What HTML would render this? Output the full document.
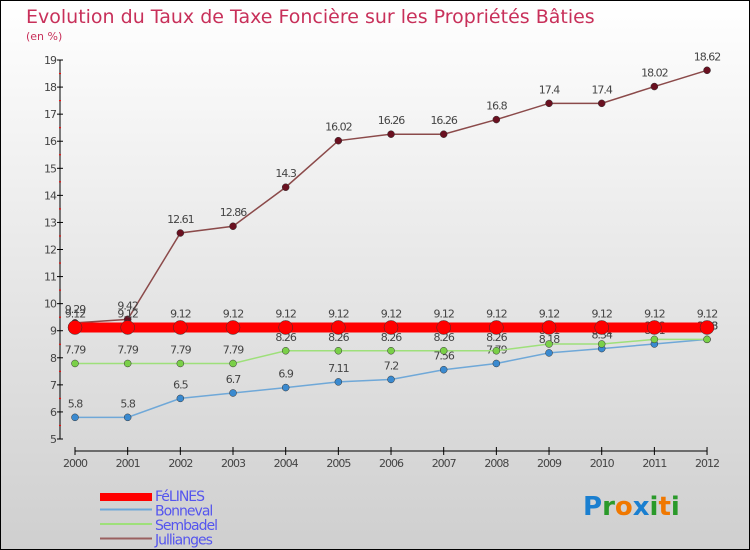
<!DOCTYPE html>
<html><head><meta charset="utf-8"><style>
body{margin:0}
#c{width:750px;height:550px;position:relative;background:linear-gradient(#ffffff,#cfcfcf);box-sizing:border-box;border:1px solid #000;overflow:hidden;font-family:"DejaVu Sans","Liberation Sans",sans-serif}
</style></head><body>
<div id="c">
<svg id="s" width="748" height="548" viewBox="1 1 748 548" style="position:absolute;left:0;top:0">
<text x="26" y="23" font-size="19" fill="#c8305a">Evolution du Taux de Taxe Foncière sur les Propriétés Bâties</text>
<text x="26" y="40" font-size="11" fill="#c8305a">(en %)</text>
</svg>
</div>
<script>
const years=['2000','2001','2002','2003','2004','2005','2006','2007','2008','2009','2010','2011','2012'];
const felines=[9.12,9.12,9.12,9.12,9.12,9.12,9.12,9.12,9.12,9.12,9.12,9.12,9.12];
const bonneval=[5.8,5.8,6.5,6.7,6.9,7.11,7.2,7.56,7.79,8.18,8.34,8.51,8.68];
const sembadel=[7.79,7.79,7.79,7.79,8.26,8.26,8.26,8.26,8.26,8.51,8.51,8.68,8.68];
const jullianges=[9.29,9.42,12.61,12.86,14.3,16.02,16.26,16.26,16.8,17.4,17.4,18.02,18.62];
const yTicks=[5,6,7,8,9,10,11,12,13,14,15,16,17,18,19];
const svg=document.getElementById('s');const NS='http://www.w3.org/2000/svg';
const X=i=>75+i*52.67, Y=v=>439-(v-5)*27.07;
function mk(t,a,p){const e=document.createElementNS(NS,t);for(const k in a)e.setAttribute(k,a[k]);(p||svg).appendChild(e);return e;}
const ax=mk('g',{});


mk('line',{x1:60,y1:Y(19),x2:60,y2:Y(5),stroke:'#000'},ax);
mk('line',{x1:75,y1:451,x2:707,y2:451,stroke:'#000'},ax);
yTicks.forEach(v=>{mk('line',{x1:57,x2:63,y1:Y(v),y2:Y(v),stroke:'#000'},ax);
 if(v<19)mk('line',{x1:59,x2:61,y1:Y(v+0.5),y2:Y(v+0.5),stroke:'#f00'},ax);
 const t=mk('text',{x:56,y:Y(v)+4,'font-size':11,fill:'#444','text-anchor':'end','letter-spacing':'-1'},ax);t.textContent=v;});
years.forEach((y,i)=>{mk('line',{x1:X(i),x2:X(i),y1:447,y2:455,stroke:'#000'},ax);
 const t=mk('text',{x:X(i),y:467,'font-size':11,fill:'#444','text-anchor':'middle','letter-spacing':'-1'},ax);t.textContent=y;});
function series(name,data,col,w,r,fill){const g=mk('g',{});
 
 
 mk('polyline',{points:data.map((v,i)=>X(i)+','+Y(v)).join(' '),fill:'none',stroke:col,'stroke-width':w},g);
 data.forEach((v,i)=>{const c=mk('circle',{cx:X(i),cy:Y(v),r:r,fill:fill,stroke:'#333','stroke-width':0.5},g);
  
  
  const t=mk('text',{x:X(i),y:Y(v)-10,'font-size':11,fill:'#444','text-anchor':'middle','letter-spacing':'-1'},g);t.textContent=v;});}
series('series-bonneval',bonneval,'#6fa8d8',1.5,3.5,'#3a8ad0');
series('series-sembadel',sembadel,'#9ee07a',1.5,3.5,'#7ad048');
series('series-jullianges',jullianges,'#8b4a4a',1.5,3.5,'#6a1020');
series('series-felines',felines,'#f00',10,7,'#f00');
const leg=[['FéLINES','#f00',8],['Bonneval','#6fa8d8',2],['Sembadel','#9ee07a',2],['Jullianges','#9a6060',2]];
leg.forEach((l,i)=>{const g=mk('g',{});
 
 
 const y=493+i*14.5;mk('line',{x1:100,x2:152,y1:y+4-(i?2:0),y2:y+4-(i?2:0),stroke:l[1],'stroke-width':l[2]},g);
 const t=mk('text',{x:155,y:y+8,'font-size':14,fill:'#5555ee','letter-spacing':'-1'},g);t.textContent=l[0];});
const lg=mk('text',{x:583,y:515,'font-size':26,'font-weight':'bold'});


[['P','#1a7fd0'],['r','#2a9a2a'],['o','#f07800'],['x','#1a7fd0'],['i','#2a9a2a'],['t','#f07800'],['i','#2a9a2a']].forEach(c=>{const s=mk('tspan',{fill:c[1]},lg);s.textContent=c[0];});
</script>
</body></html>
